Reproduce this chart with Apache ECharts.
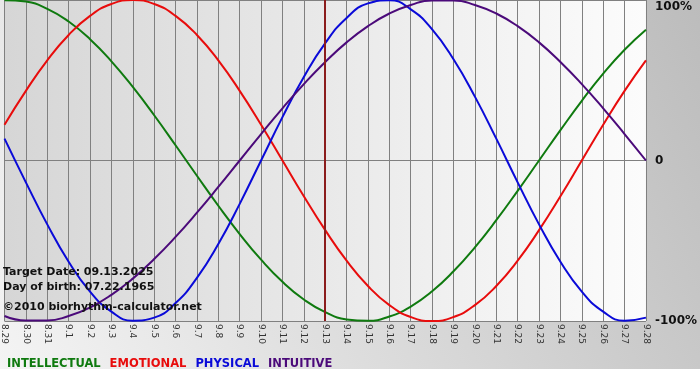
<!DOCTYPE html>
<html>
<head>
<meta charset="utf-8">
<script src="https://cdn.jsdelivr.net/npm/echarts@6/dist/echarts.min.js"></script>
<style>
html,body{margin:0;padding:0;background:#fff;}
#chart{width:700px;height:380px;}
</style>
</head>
<body>
<div id="chart"></div>
<script>
var days = ['8.29','8.30','8.31','9.1','9.2','9.3','9.4','9.5','9.6','9.7','9.8','9.9','9.10','9.11','9.12','9.13','9.14','9.15','9.16','9.17','9.18','9.19','9.20','9.21','9.22','9.23','9.24','9.25','9.26','9.27','9.28'];
var intellectual = [0.999,0.990,0.945,0.866,0.756,0.618,0.458,0.282,0.095,-0.095,-0.282,-0.458,-0.618,-0.756,-0.866,-0.945,-0.990,-0.999,-0.972,-0.910,-0.815,-0.690,-0.541,-0.372,-0.189,0,0.189,0.372,0.541,0.690,0.815];
var emotional = [0.223,0.434,0.624,0.782,0.901,0.975,1,0.975,0.901,0.782,0.624,0.434,0.223,0,-0.223,-0.434,-0.624,-0.782,-0.901,-0.975,-1,-0.975,-0.901,-0.782,-0.624,-0.434,-0.223,0,0.223,0.434,0.624];
var physical = [0.136,-0.136,-0.398,-0.631,-0.817,-0.942,-0.998,-0.979,-0.888,-0.731,-0.520,-0.270,0,0.270,0.520,0.731,0.888,0.979,0.998,0.942,0.817,0.631,0.398,0.136,-0.136,-0.398,-0.631,-0.817,-0.942,-0.998,-0.979];
var intuitive = [-0.969,-0.997,-0.997,-0.969,-0.916,-0.837,-0.736,-0.614,-0.476,-0.325,-0.165,0,0.165,0.325,0.476,0.614,0.736,0.837,0.916,0.969,0.997,0.997,0.969,0.916,0.837,0.736,0.614,0.476,0.325,0.165,0];
var seriesNames = ['INTELLECTUAL','EMOTIONAL','PHYSICAL','INTUITIVE'];
var seriesColors = ['#0f7a0f','#e80c0c','#0a0ad8','#4b0a7a'];
var targetDay = '9.13';
var infoLines = ['Target Date: 09.13.2025','Day of birth: 07.22.1965','©2010 biorhythm-calculator.net'];
var yLabels = {'1':'100%','0':'0','-1':'-100%'};

var chart = echarts.init(document.getElementById('chart'), null, {renderer:'canvas'});
var FONT = '"DejaVu Sans", Verdana, sans-serif';
var dataSets = [intellectual, emotional, physical, intuitive];

var series = dataSets.map(function(d, i){
  var s = {
    name: seriesNames[i], type:'line', data:d, smooth:true, symbol:'none',
    lineStyle:{color:seriesColors[i], width:2}, itemStyle:{color:seriesColors[i]},
    animation:false, z:3
  };
  if (i === 3) {
    s.markLine = {
      silent:true, symbol:'none', label:{show:false},
      lineStyle:{color:'#8b1c1c', width:2, type:'solid'},
      data:[{xAxis:targetDay}], animation:false
    };
  }
  return s;
});

chart.setOption({
  animation:false,
  backgroundColor:'#ffffff',
  grid:{left:1, right:49, top:0, bottom:59, show:true, borderWidth:0,
    backgroundColor:new echarts.graphic.LinearGradient(0,0,1,0,[{offset:0,color:'#d6d6d6'},{offset:1,color:'#fcfcfc'}])},
  xAxis:{
    type:'category', data:days, boundaryGap:false,
    axisLine:{show:true, lineStyle:{color:'#808080', width:1}},
    axisTick:{show:false},
    splitLine:{show:true, interval:0, lineStyle:{color:'#808080', width:1}},
    axisLabel:{interval:0, rotate:-90, margin:3, fontSize:9, color:'#333', fontFamily:FONT}
  },
  yAxis:{
    type:'value', position:'right', min:-1, max:1, interval:1,
    axisLine:{show:false}, axisTick:{show:false},
    splitLine:{show:true, lineStyle:{color:'#808080', width:1}},
    axisLabel:{
      margin:9, color:'#111', fontSize:12, fontWeight:'bold', fontFamily:FONT,
      formatter:function(v){ var t = yLabels[String(v)]; return v === 1 ? '{t|' + t + '}' : t; },
      rich:{t:{padding:[14,0,0,0], fontSize:12, fontWeight:'bold', fontFamily:FONT, color:'#111'}}
    }
  },
  legend:{
    left:-3, top:352, icon:'none', itemWidth:0, itemGap:4, selectedMode:false,
    textStyle:{fontSize:11.5, fontWeight:'bold', fontFamily:FONT},
    data:seriesNames.map(function(n,i){ return {name:n, textStyle:{color:seriesColors[i]}}; })
  },
  graphic:[
    {type:'rect', silent:true, z:-100, shape:{x:0,y:0,width:700,height:369},
      style:{fill:new echarts.graphic.LinearGradient(0,1,1,0,[{offset:0,color:'#f4f4f4'},{offset:1,color:'#bcbcbc'}])}}
  ].concat(infoLines.map(function(t, i){
    return {type:'text', silent:true, z:100, left:3, top:[267,282,302][i],
      style:{text:t, font:'bold 11px ' + FONT, fill:'#111'}};
  })),
  series:series
});
</script>
</body>
</html>
